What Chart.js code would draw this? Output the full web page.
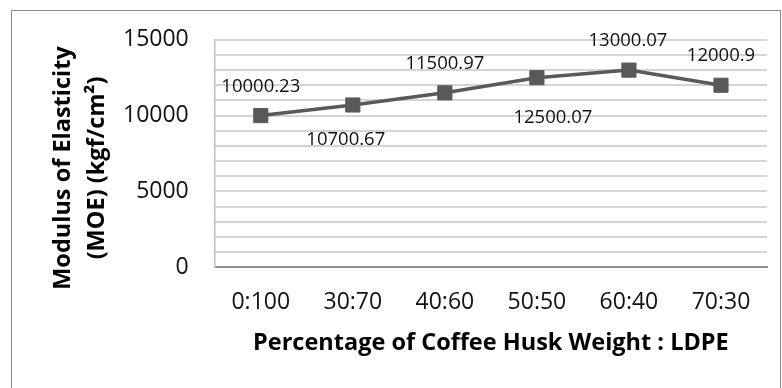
<!DOCTYPE html>
<html>
<head>
<meta charset="utf-8">
<script src="https://cdn.jsdelivr.net/npm/chart.js@4/dist/chart.umd.min.js"></script>
<style>
  html, body { margin: 0; padding: 0; background: #ffffff; }
  #wrap { position: relative; width: 782px; height: 388px; }
</style>
</head>
<body>
<div id="wrap"><canvas id="chart" width="782" height="388"></canvas></div>
<script>
// Blend ratios (coffee husk : LDPE) and measured modulus of elasticity
const categories = ['0:100', '30:70', '40:60', '50:50', '60:40', '70:30'];
const moeValues = [10000.23, 10700.67, 11500.97, 12500.07, 13000.07, 12000.9];
const yTickLabels = [0, 5000, 10000, 15000];

const xTitle = 'Percentage of Coffee Husk Weight : LDPE';
const yTitle = ['Modulus of Elasticity', '(MOE) (kgf/cm\u00B2)'];

const FONT = "'Open Sans', 'DejaVu Sans', sans-serif";

// Outer frame around the whole figure
const framePlugin = {
  id: 'frame',
  beforeDraw(chart) {
    const ctx = chart.ctx;
    ctx.save();
    ctx.fillStyle = '#ffffff';
    ctx.fillRect(0, 0, chart.width, chart.height);
    ctx.strokeStyle = '#8a8a8a';
    ctx.lineWidth = 1;
    ctx.strokeRect(11.5, 10.5, 769, 400);
    ctx.restore();
  }
};

// Two-line vertical axis title, drawn rotated in the left margin
const yTitlePlugin = {
  id: 'yTitle',
  afterDraw(chart, args, opts) {
    const ctx = chart.ctx;
    ctx.save();
    ctx.font = opts.font;
    ctx.fillStyle = opts.color;
    ctx.textAlign = 'center';
    ctx.textBaseline = 'middle';
    opts.lines.forEach((line, i) => {
      ctx.save();
      ctx.translate(opts.x[i], opts.centerY);
      ctx.rotate(-Math.PI / 2);
      ctx.fillText(line, 0, 0);
      ctx.restore();
    });
    ctx.restore();
  }
};

// Value labels next to each marker
const valueLabelPlugin = {
  id: 'valueLabels',
  afterDatasetsDraw(chart, args, opts) {
    const ctx = chart.ctx;
    const meta = chart.getDatasetMeta(0);
    const values = chart.data.datasets[0].data;
    ctx.save();
    ctx.font = opts.font;
    ctx.fillStyle = opts.color;
    ctx.textAlign = 'center';
    ctx.textBaseline = 'middle';
    meta.data.forEach((pt, i) => {
      const off = opts.offsets[i] || [0, -28];
      ctx.fillText(String(values[i]), pt.x + off[0], pt.y + off[1]);
    });
    ctx.restore();
  }
};

new Chart(document.getElementById('chart'), {
  type: 'line',
  data: {
    labels: categories,
    datasets: [{
      data: moeValues,
      borderColor: '#595959',
      backgroundColor: '#595959',
      borderWidth: 3.5,
      pointStyle: 'rect',
      pointRadius: 10,
      pointBorderWidth: 1,
      pointBackgroundColor: '#595959',
      pointBorderColor: '#595959',
      tension: 0
    }]
  },
  options: {
    responsive: false,
    animation: false,
    layout: { padding: { left: 97, right: 15, top: 39, bottom: 31 } },
    plugins: {
      legend: { display: false },
      tooltip: { enabled: false },
      valueLabels: {
        font: `18.5px ${FONT}`,
        color: '#111111',
        offsets: [[0, -29], [-7, 35], [0, -29], [16, 40], [-1, -29], [0, -30]]
      },
      yTitle: {
        lines: yTitle,
        font: `bold 23.5px ${FONT}`,
        color: '#000000',
        x: [63, 97],
        centerY: 168
      }
    },
    scales: {
      x: {
        offset: true,
        grid: { display: false, drawTicks: false },
        border: { display: true, color: '#8c8c8c', width: 2 },
        ticks: { color: '#111111', font: { family: FONT, size: 23 }, padding: 21, maxRotation: 0, autoSkip: false },
        title: {
          display: true,
          text: xTitle,
          color: '#000000',
          font: { family: FONT, size: 23.5, weight: 'bold' },
          padding: { top: -8, bottom: 0 }
        }
      },
      y: {
        min: 0,
        max: 15000,
        grid: { color: '#d4d4d4', lineWidth: 2, drawTicks: false },
        border: { display: true, color: '#bfbfbf', width: 1.5 },
        ticks: {
          stepSize: 1000,
          autoSkip: false,
          color: '#111111',
          font: { family: FONT, size: 23 },
          padding: 26,
          callback: (v) => (yTickLabels.includes(v) ? String(v) : '')
        },
        title: { display: false }
      }
    }
  },
  plugins: [framePlugin, valueLabelPlugin, yTitlePlugin]
});
</script>
</body>
</html>
